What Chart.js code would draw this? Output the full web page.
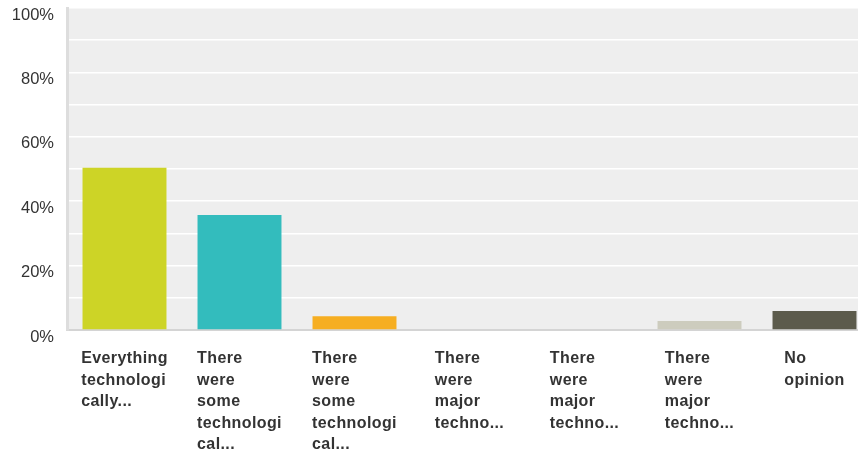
<!DOCTYPE html>
<html>
<head>
<meta charset="utf-8">
<script src="https://cdn.jsdelivr.net/npm/chart.js@4/dist/chart.umd.min.js"></script>
<style>
  html, body { margin: 0; padding: 0; background: #fff; overflow: hidden; }
  #wrap { width: 872px; height: 454px; }
</style>
</head>
<body>
<div id="wrap"><canvas id="chart" width="872" height="454"></canvas></div>
<script>
(function () {
    "use strict";

    // 选项（长文本按换行拆成多行，末尾省略）
    var categories = [
        ["Everything", "technologi", "cally..."],
        ["There", "were", "some", "technologi", "cal..."],
        ["There", "were", "some", "technologi", "cal..."],
        ["There", "were", "major", "techno..."],
        ["There", "were", "major", "techno..."],
        ["There", "were", "major", "techno..."],
        ["No", "opinion"]
    ];
    var percents = [50.4, 35.7, 4.3, 0, 0, 2.8, 5.9];
    var barColors = ["#cdd426", "#33bcbd", "#f6ae21", "#e8734c", "#7b6aa0", "#cdccbe", "#5c5b4c"];
    var yTicks = [0, 20, 40, 60, 80, 100];

    var FONT = "'Liberation Sans', Arial, sans-serif";

    // 灰色绘图区背景
    var plotBg = {
        id: "plotBg",
        beforeDraw: function (chart) {
            var a = chart.chartArea, ctx = chart.ctx;
            ctx.save();
            ctx.fillStyle = "#eeeeee";
            ctx.fillRect(a.left, a.top, a.right - a.left, a.bottom - a.top);
            ctx.restore();
        }
    };

    // X 轴标签：多行文字左对齐，整块以柱子中心居中
    var blockLabels = {
        id: "blockLabels",
        afterDraw: function (chart) {
            var xs = chart.scales.x, ctx = chart.ctx;
            var top = chart.chartArea.bottom + 29, lineH = 21.4;
            ctx.save();
            ctx.font = "bold 16px " + FONT;
            if ("letterSpacing" in ctx) ctx.letterSpacing = "0.4px";
            ctx.fillStyle = "#333333";
            ctx.textAlign = "left";
            ctx.textBaseline = "middle";
            categories.forEach(function (lines, i) {
                var w = 0;
                lines.forEach(function (t) { w = Math.max(w, ctx.measureText(t).width); });
                var left = xs.getPixelForValue(i) - w / 2;
                lines.forEach(function (t, k) { ctx.fillText(t, left, top + k * lineH); });
            });
            ctx.restore();
        }
    };

    new Chart(document.getElementById("chart"), {
        type: "bar",
        data: {
            labels: categories,
            datasets: [{
                data: percents,
                backgroundColor: barColors,
                borderWidth: 0,
                barPercentage: 0.73,
                categoryPercentage: 1
            }]
        },
        options: {
            responsive: false,
            animation: false,
            layout: { padding: { top: 8, right: 0, left: 0, bottom: 0 } },
            plugins: { legend: { display: false }, tooltip: { enabled: false } },
            scales: {
                x: {
                    offset: true,
                    grid: { display: false, drawTicks: false },
                    border: { display: true, color: "#d4d4d4", width: 2 },
                    afterFit: function (s) { s.height = 124; s.paddingLeft = 0; s.paddingRight = 0; },
                    ticks: { display: false }
                },
                y: {
                    min: 0,
                    max: 100,
                    grid: { color: "#ffffff", lineWidth: 1.5, drawTicks: false },
                    border: { display: true, color: "#dddddd", width: 3 },
                    afterFit: function (s) { s.width = 67; s.paddingTop = 0; s.paddingBottom = 0; },
                    ticks: {
                        stepSize: 10,
                        padding: 13,
                        labelOffset: 7,
                        color: "#333333",
                        font: { family: FONT, size: 16.5 },
                        callback: function (v) { return yTicks.indexOf(v) >= 0 ? v + "%" : ""; }
                    }
                }
            }
        },
        plugins: [plotBg, blockLabels]
    });
})();
</script>
</body>
</html>
